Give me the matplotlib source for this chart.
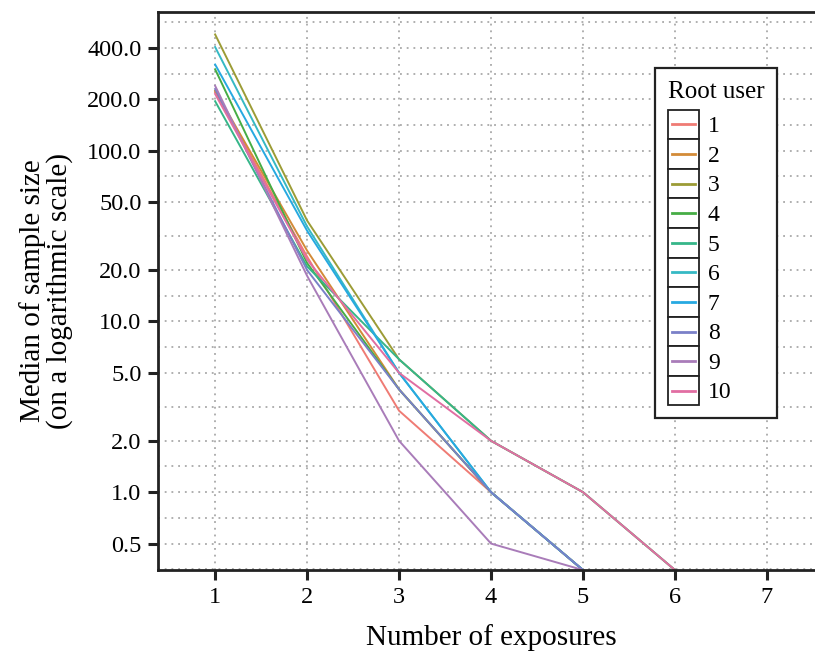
import numpy as np
import matplotlib
matplotlib.use("Agg")
import matplotlib.pyplot as plt
from matplotlib.legend_handler import HandlerLine2D
from matplotlib.patches import Rectangle
from matplotlib.lines import Line2D

plt.rcParams['font.family'] = ['Liberation Serif', 'DejaVu Serif']

# median sample size per root user, by number of exposures (1, 2, 3, ...)
users = ['1', '2', '3', '4', '5', '6', '7', '8', '9', '10']
medians = [
    [220, 24, 3, 1, 0.35],
    [225, 26, 4, 1, 0.35],
    [480, 39, 6, 2, 1, 0.35],
    [300, 22, 4, 1, 0.35],
    [195, 21, 6, 2, 1, 0.35],
    [405, 36, 5, 1, 0.35],
    [320, 34, 5, 1, 0.35],
    [230, 20, 4, 1, 0.35],
    [240, 18.5, 2, 0.5, 0.35],
    [215, 23, 5, 2, 1, 0.35],
]
colors = ['#ef7b74', '#d38b38', '#9c9c36', '#46ad45', '#36b689', '#35b9c4',
          '#27a9e1', '#7a80c8', '#a97cb9', '#e16ea2']

xticks = [1, 2, 3, 4, 5, 6, 7]
yticks = [0.5, 1, 2, 5, 10, 20, 50, 100, 200, 400]


class BoxedLine(HandlerLine2D):
    # legend key with a black box round the line
    def create_artists(self, legend, orig_handle, xdescent, ydescent,
                       width, height, fontsize, trans):
        rect = Rectangle((-xdescent, -ydescent), width, height,
                         facecolor='white', edgecolor='#222222', lw=1.3,
                         transform=trans)
        y = -ydescent + height / 2
        line = Line2D([-xdescent + width * 0.12, -xdescent + width * 0.88], [y, y],
                      color=orig_handle.get_color(), lw=2.0, transform=trans)
        return [rect, line]


fig = plt.figure(figsize=(8.15, 6.54), dpi=100)
ax = fig.add_axes([0.194, 0.1284, 0.817, 0.8533])

for name, vals, c in zip(users, medians, colors):
    xs = np.arange(1, len(vals) + 1)
    ax.plot(xs, vals, color=c, lw=1.4, label=name)

ax.set_yscale('log')
ax.set_xlim(0.38, 7.62)
ax.set_ylim(0.35, 650)

ax.set_xticks(xticks)
ax.set_xticklabels([str(t) for t in xticks])
ax.set_yticks(yticks)
ax.set_yticklabels(['%.1f' % t for t in yticks])
# minor grid halfway between major ticks (log space)
edges = [0.25] + yticks + [800]
minors = [np.sqrt(a * b) for a, b in zip(edges[:-1], edges[1:])]
ax.set_yticks(minors, minor=True)
ax.yaxis.set_minor_formatter(matplotlib.ticker.NullFormatter())

grid_kw = dict(ls=(0, (1.2, 3.2)), color='#9a9a9a', lw=1.1)
ax.grid(True, which='both', axis='y', **grid_kw)
ax.grid(True, which='major', axis='x', **grid_kw)
ax.tick_params(which='major', length=7, width=2.2, color='#222222',
               labelsize=17.5, pad=5)
ax.tick_params(which='minor', length=0)
for s in ax.spines.values():
    s.set_linewidth(2.0)
    s.set_color('#222222')

ax.set_xlabel('Number of exposures', fontsize=21, labelpad=12)
ax.set_ylabel('Median of sample size\n(on a logarithmic scale)', fontsize=21,
              labelpad=10, linespacing=1.0)

handles, labels = ax.get_legend_handles_labels()
leg = ax.legend(handles, labels, title='Root user', loc='upper left',
                bbox_to_anchor=(0.746, 0.90), borderaxespad=0,
                fontsize=17, title_fontsize=18, handler_map={Line2D: BoxedLine()},
                handlelength=1.3, handleheight=1.55, labelspacing=0,
                handletextpad=0.4, borderpad=0.55, fancybox=False,
                framealpha=1, edgecolor='#222222', alignment='left')
leg.get_frame().set_linewidth(1.6)
leg._legend_box.sep = 5  # small gap under the title

fig.savefig('out.png', dpi=100)
